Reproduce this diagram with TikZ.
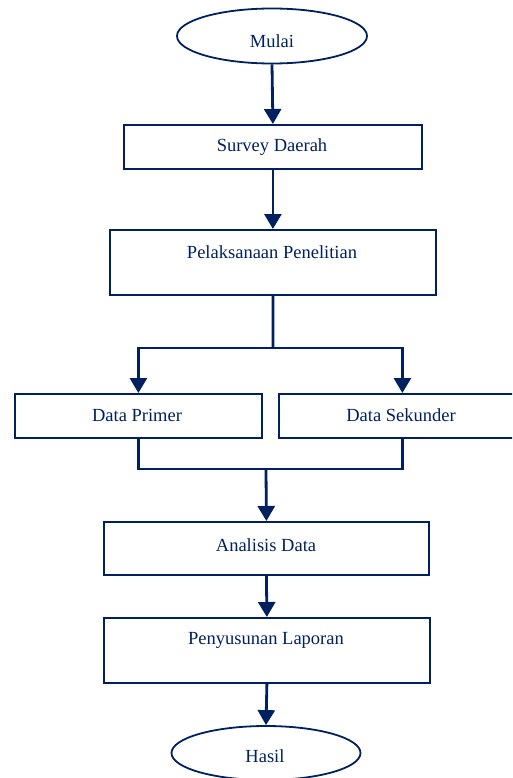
\documentclass[tikz,border=0pt]{standalone}
\usepackage{fontspec}
\setmainfont{Liberation Serif}
\usetikzlibrary{arrows.meta,shapes.geometric}
\definecolor{navy}{HTML}{002060}
\begin{document}
\begin{tikzpicture}[x=1pt,y=-1pt,
  box/.style={draw=navy, line width=1.8pt, rectangle, inner sep=0pt, anchor=north west},
  oval/.style={draw=navy, line width=1.8pt, ellipse, inner sep=0pt},
  txt/.style={text=navy, font=\fontsize{18.5}{20}\selectfont, inner sep=0pt},
  conn/.style={draw=navy, line width=2.8pt},
  arr/.style={conn, -{Triangle[length=15pt,width=17pt]}}]
\useasboundingbox (0,0) rectangle (512,778);
\clip (0,0) rectangle (512,778);
% shapes
\node[oval, minimum width=190pt, minimum height=55pt] (mulai) at (272,36) {};
\node[box, minimum width=298pt, minimum height=44pt] (survey) at (123,124) {};
\node[box, minimum width=326pt, minimum height=65pt] (pel) at (109,229) {};
\node[box, minimum width=247pt, minimum height=44pt] (primer) at (14,393) {};
\node[box, minimum width=247pt, minimum height=44pt] (sekunder) at (278,393) {};
\node[box, minimum width=325pt, minimum height=53pt] (analisis) at (103,521) {};
\node[box, minimum width=326pt, minimum height=65pt] (lapor) at (103,617) {};
\node[oval, minimum width=189pt, minimum height=54pt] (hasil) at (266,753) {};
% texts
\node[txt] (tmulai) at (272,41) {Mulai};
\node[txt] (tsurvey) at (272,147) {Survey Daerah};
\node[txt] (tpel) at (272,252) {Pelaksanaan Penelitian};
\node[txt] (tprimer) at (137,415) {Data Primer};
\node[txt] (tsekunder) at (401,415) {Data Sekunder};
\node[txt] (tanalisis) at (266,545) {Analisis Data};
\node[txt] (tlapor) at (266,640) {Penyusunan Laporan};
\node[txt] (thasil) at (265,756) {Hasil};
% connectors
\coordinate (split) at (273,348);
\coordinate (merge) at (266,469);
\draw[arr] (mulai.south) -- (survey.north);
\draw[arr] (survey.south) -- (pel.north);
\draw[conn] (pel.south) -- (split);
\draw[arr] (split) -| (primer.north);
\draw[arr] (split) -| (sekunder.north);
\draw[conn] (primer.south) |- (merge);
\draw[conn] (sekunder.south) |- (merge);
\draw[arr] (merge) -- (analisis.north);
\draw[arr] (analisis.south) -- (lapor.north);
\draw[arr] (lapor.south) -- (hasil.north);
\end{tikzpicture}
\end{document}
